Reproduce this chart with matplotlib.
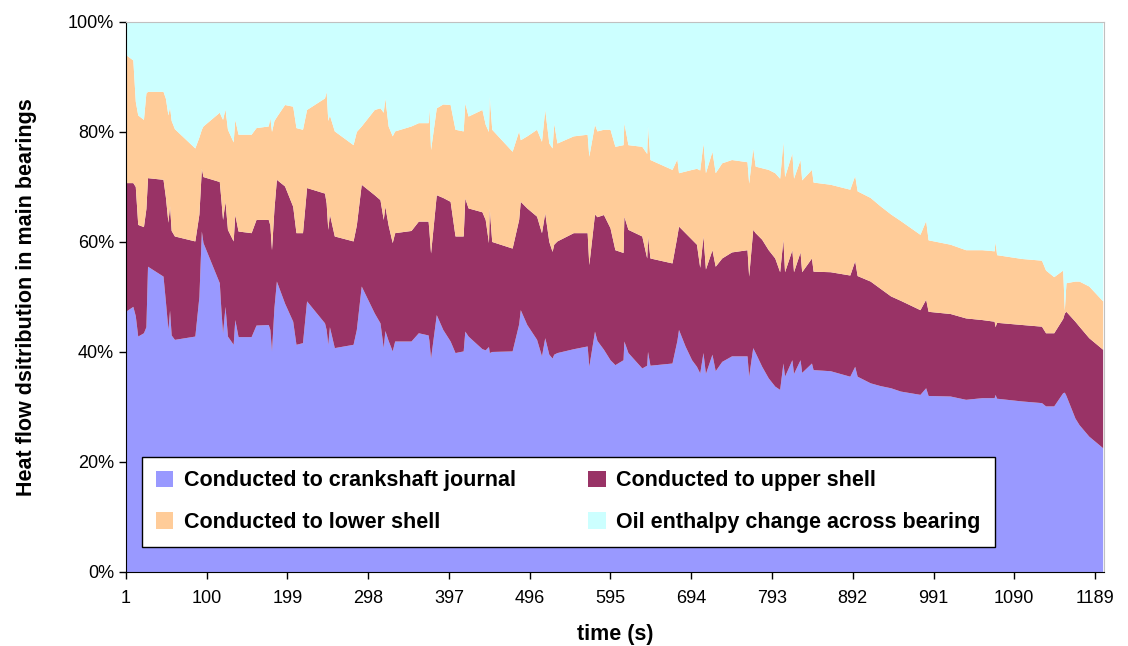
import matplotlib
matplotlib.use("Agg")
import matplotlib.pyplot as plt
from matplotlib.patches import Patch
import numpy as np

plt.rcParams['font.family'] = ['Liberation Sans', 'DejaVu Sans']

# time (s) of the sampled points
time = [1, 10, 13, 16, 23, 26, 28, 47, 50, 53, 55, 57, 61, 86, 91, 94, 96, 116, 118, 120,
        123, 126, 133, 135, 139, 155, 161, 176, 178, 180, 183, 186, 196, 206, 210, 218, 223, 245, 247, 249,
        251, 257, 280, 284, 290, 306, 313, 317, 319, 323, 328, 331, 351, 360, 372, 373, 375, 382, 390, 399, 405,
        415, 417, 421, 438, 442, 446, 447, 450, 475, 483, 485, 493, 505, 511, 515, 520, 524, 526, 530, 550, 567,
        569, 576, 579, 587, 595, 601, 611, 612, 617, 634, 640, 641, 644, 671, 677, 679, 687, 695, 701, 705, 709, 712, 720,
        724, 732, 744, 763, 765, 770, 773, 781, 789, 797, 803, 807, 809, 818, 820, 828, 830, 842, 844, 865, 889, 895,
        898, 914, 926, 939, 951, 975, 982, 985, 1012, 1031, 1051, 1066, 1067, 1069, 1100, 1124, 1129, 1139, 1150, 1152,
        1154, 1165, 1170, 1182, 1199]

# share of heat flow (%)
journal = [47.3, 48.2, 46.5, 42.8, 43.4, 44.5, 55.5, 53.7, 49.0, 44.0, 47.5, 43.0, 42.2, 42.8, 50.0, 61.9, 59.8, 52.5, 47.5, 43.4,
           48.2, 42.8, 41.3, 45.8, 42.7, 42.7, 44.8, 44.9, 44.0, 40.1, 48.0, 52.8, 48.8, 45.5, 41.3, 41.6, 49.2, 45.2, 44.0, 41.3,
           44.5, 40.7, 41.3, 44.0, 51.9, 47.0, 45.2, 40.7, 43.8, 42.0, 40.1, 41.9, 41.9, 43.4, 43.0, 42.0, 38.8, 46.7, 44.0, 41.9, 39.8,
           40.1, 43.7, 42.8, 40.5, 40.3, 40.9, 39.8, 40.0, 40.1, 45.0, 47.6, 44.9, 42.2, 39.2, 42.5, 39.5, 38.8, 39.5, 39.8, 40.5, 41.0,
           37.3, 43.7, 42.0, 40.4, 38.5, 37.6, 38.5, 41.9, 39.8, 37.0, 37.5, 40.0, 37.5, 37.9, 42.0, 44.0, 41.0, 38.5, 37.3, 36.1, 39.8, 36.0, 39.5,
           36.5, 38.2, 39.2, 39.2, 35.5, 40.7, 39.8, 37.3, 35.2, 33.7, 33.1, 37.9, 35.5, 38.5, 36.0, 38.5, 36.2, 37.9, 36.7, 36.5, 35.5, 37.3,
           35.5, 34.3, 33.8, 33.4, 32.8, 32.2, 33.4, 32.0, 31.9, 31.3, 31.6, 31.6, 32.2, 31.5, 31.0, 30.7, 30.1, 30.1, 32.5, 32.6,
           32.0, 27.9, 26.7, 24.6, 22.5]
upper = [23.4, 22.5, 23.5, 20.3, 19.3, 21.5, 16.1, 17.6, 19.0, 19.5, 19.0, 19.0, 18.8, 17.3, 15.0, 11.4, 12.0, 18.4, 20.1, 20.6,
         19.1, 19.4, 18.8, 19.1, 19.2, 18.9, 19.2, 19.1, 19.0, 18.4, 18.0, 18.5, 21.3, 20.9, 20.3, 20.0, 20.6, 23.6, 23.0, 20.9,
         20.5, 20.3, 18.8, 19.0, 18.5, 21.5, 22.4, 23.3, 22.6, 21.0, 19.7, 19.7, 20.1, 20.3, 20.7, 20.0, 19.1, 21.8, 24.0, 25.4, 21.2,
         20.9, 24.2, 23.3, 24.9, 23.7, 18.9, 26.2, 20.0, 18.7, 19.0, 19.7, 21.2, 22.4, 22.4, 22.7, 20.5, 19.4, 20.0, 20.3, 21.1, 20.6,
         18.5, 21.3, 22.5, 24.5, 24.0, 20.9, 19.5, 22.7, 22.4, 24.0, 19.5, 21.0, 19.5, 18.2, 19.0, 18.8, 20.6, 21.9, 22.2, 19.2, 21.2, 19.0, 19.0,
         19.0, 18.8, 18.9, 19.3, 18.2, 21.5, 21.8, 23.1, 23.3, 23.3, 21.4, 22.5, 19.0, 20.0, 18.5, 19.6, 18.3, 19.1, 17.9, 18.0, 18.4, 19.2,
         18.3, 18.5, 17.7, 16.7, 16.5, 15.4, 16.1, 15.3, 15.0, 14.8, 14.2, 13.9, 12.3, 13.8, 13.9, 13.9, 13.3, 13.3, 13.5, 14.4,
         15.3, 17.6, 17.9, 17.9, 17.9]
lower = [23.3, 22.3, 15.5, 19.9, 19.5, 21.0, 15.7, 16.0, 18.0, 19.5, 18.0, 20.0, 19.5, 16.9, 14.0, 7.1, 9.2, 12.6, 15.2, 18.2,
         16.8, 18.2, 18.0, 17.3, 17.6, 17.9, 16.7, 17.0, 19.5, 21.5, 16.0, 11.4, 14.8, 18.2, 19.1, 18.8, 14.2, 17.3, 20.3, 19.8,
         18.0, 19.1, 17.5, 17.0, 10.6, 15.5, 16.7, 19.5, 19.7, 18.0, 19.4, 18.5, 19.0, 17.9, 17.9, 22.3, 18.8, 15.8, 17.0, 17.6, 19.4,
         19.1, 17.3, 16.7, 18.6, 17.3, 20.2, 20.4, 20.4, 17.6, 16.1, 11.2, 13.1, 15.8, 16.6, 18.8, 17.9, 18.8, 22.0, 17.8, 17.6, 17.9,
         19.7, 16.3, 15.6, 15.5, 17.9, 18.8, 19.6, 17.0, 15.4, 16.3, 19.0, 20.0, 17.9, 17.0, 14.0, 9.7, 11.2, 12.7, 13.8, 17.7, 16.9, 17.5, 17.9,
         17.0, 17.3, 16.8, 16.0, 16.9, 14.8, 12.1, 13.0, 14.6, 15.5, 17.0, 17.8, 17.3, 17.6, 17.0, 16.8, 16.7, 16.1, 16.2, 15.9, 15.6, 15.5,
         15.4, 15.2, 15.0, 14.9, 14.5, 13.7, 14.3, 13.0, 12.6, 12.4, 12.7, 12.8, 15.5, 12.3, 12.0, 12.0, 11.4, 10.2, 8.8, 0.5,
         5.2, 7.3, 8.2, 9.4, 8.8]
oil = [6.0, 7.0, 14.5, 17.0, 17.8, 13.0, 12.7, 12.7, 14.0, 17.0, 15.5, 18.0, 19.5, 23.0, 21.0, 19.6, 19.0, 16.5, 17.2, 17.8,
       15.9, 19.6, 21.9, 17.8, 20.5, 20.5, 19.3, 19.0, 17.5, 20.0, 18.0, 17.3, 15.1, 15.4, 19.3, 19.6, 16.0, 13.9, 12.7, 18.0,
       17.0, 19.9, 22.4, 20.0, 19.0, 16.0, 15.7, 16.5, 13.9, 19.0, 20.8, 19.9, 19.0, 18.4, 18.4, 15.7, 23.3, 15.7, 15.0, 15.1, 19.6,
       19.9, 14.8, 17.2, 16.0, 18.7, 20.0, 13.6, 19.6, 23.6, 19.9, 21.5, 20.8, 19.6, 21.8, 16.0, 22.1, 23.0, 18.5, 22.1, 20.8, 20.5,
       24.5, 18.7, 19.9, 19.6, 19.6, 22.7, 22.4, 18.4, 22.4, 22.7, 24.0, 19.0, 25.1, 26.9, 25.0, 27.5, 27.2, 26.9, 26.7, 27.0, 22.1, 27.5, 23.6,
       27.5, 25.7, 25.1, 25.5, 29.4, 23.0, 26.3, 26.6, 26.9, 27.5, 28.5, 21.8, 28.2, 23.9, 28.5, 25.1, 28.8, 26.9, 29.2, 29.6, 30.5, 28.0,
       30.8, 32.0, 33.5, 35.0, 36.2, 38.7, 36.2, 39.7, 40.5, 41.5, 41.5, 41.7, 40.0, 42.4, 43.1, 43.4, 45.2, 46.4, 45.2, 52.5,
       47.5, 47.2, 47.2, 48.1, 50.8]

labels = ['Conducted to crankshaft journal', 'Conducted to upper shell',
          'Conducted to lower shell', 'Oil enthalpy change across bearing']
colors = ['#9999FF', '#993366', '#FFCC99', '#CCFFFF']
xticks = list(range(1, 1190, 99))

fig = plt.figure(figsize=(11.28, 6.46), dpi=100)
ax = fig.add_axes([0.1117, 0.1146, 0.867, 0.8514])

ax.stackplot(time, journal, upper, lower, oil, colors=colors, linewidth=0, antialiased=True)

ax.set_xlim(1, 1200)
ax.set_ylim(0, 100)
ax.set_xticks(xticks)
ax.set_xticklabels([str(t) for t in xticks])
ax.set_yticks(range(0, 101, 20))
ax.set_yticklabels([f'{v}%' for v in range(0, 101, 20)])
ax.tick_params(axis='both', direction='out', length=5, width=1, labelsize=13, colors='black')
ax.tick_params(axis='x', pad=8)

for side in ['top', 'right']:
    ax.spines[side].set_color('#c0c0c0')
for side in ['left', 'bottom']:
    ax.spines[side].set_color('black')

ax.set_xlabel('time (s)', fontsize=15.5, fontweight='bold', labelpad=12)
ax.set_ylabel('Heat flow dsitribution in main bearings', fontsize=15.5, fontweight='bold', labelpad=22)

# legend fills column by column, reference reads row by row
handles = [Patch(facecolor=c, edgecolor='none') for c in colors]
order = [0, 2, 1, 3]
leg = ax.legend([handles[i] for i in order], [labels[i] for i in order], ncol=2, loc='lower left',
                bbox_to_anchor=(0.0164, 0.0455, 0.872, 0.16), mode='expand',
                prop={'weight': 'bold', 'size': 15.5}, frameon=True, fancybox=False,
                facecolor='white', framealpha=1,
                handlelength=0.8, handleheight=0.8, handletextpad=0.5,
                borderaxespad=0, borderpad=0.65, labelspacing=0.95)
leg.get_frame().set_edgecolor('black')
leg.get_frame().set_linewidth(1)

fig.savefig('out.png', dpi=100)
